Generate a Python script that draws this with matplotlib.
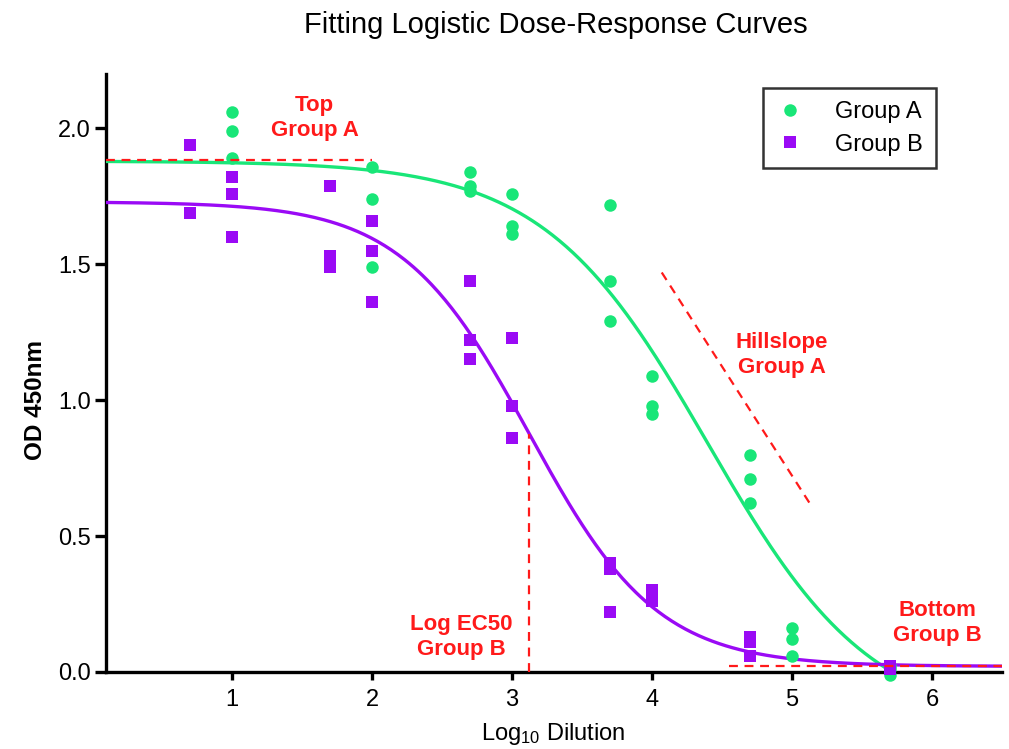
import matplotlib
matplotlib.use('Agg')
import matplotlib.pyplot as plt
import numpy as np

# ==========================================
# 1. fonts
# ==========================================
plt.rcParams['font.family'] = ['Liberation Sans', 'DejaVu Sans']
plt.rcParams['mathtext.fontset'] = 'custom'
plt.rcParams['mathtext.rm'] = 'Liberation Sans'
plt.rcParams['mathtext.it'] = 'Liberation Sans:italic'
plt.rcParams['mathtext.bf'] = 'Liberation Sans:bold'

# ==========================================
# 2. data (log10 dilution vs OD 450nm)
# ==========================================
dil_a = [1, 1, 1, 2, 2, 2, 2.7, 2.7, 2.7, 3, 3, 3, 3.7, 3.7, 3.7,
         4, 4, 4, 4.7, 4.7, 4.7, 5, 5, 5, 5.7, 5.7, 5.7]
od_a = [2.06, 1.99, 1.89, 1.86, 1.74, 1.49, 1.84, 1.79, 1.77, 1.76, 1.64, 1.61,
        1.72, 1.44, 1.29, 1.09, 0.98, 0.95, 0.80, 0.71, 0.62, 0.16, 0.12, 0.06,
        0.02, 0.01, -0.01]

dil_b = [0.7, 0.7, 1, 1, 1, 1.7, 1.7, 1.7, 2, 2, 2, 2.7, 2.7, 2.7, 3, 3, 3,
         3.7, 3.7, 3.7, 4, 4, 4, 4.7, 4.7, 4.7, 5.7, 5.7, 5.7]
od_b = [1.94, 1.69, 1.82, 1.76, 1.60, 1.79, 1.53, 1.49, 1.66, 1.55, 1.36,
        1.44, 1.22, 1.15, 1.23, 0.98, 0.86, 0.40, 0.38, 0.22, 0.30, 0.28, 0.26,
        0.13, 0.11, 0.06, 0.02, 0.02, 0.01]

# fitted 4PL parameters: top, bottom, logEC50, hill slope
fit_a = [1.88, -0.20, 4.40, 0.74]
fit_b = [1.73, 0.02, 3.125, 0.95]

# hillslope guide for group A (start / end points in data units)
hill_x = [4.07, 5.14]
hill_y = [1.47, 0.61]

green = '#19E678'
purple = '#9A0AF5'
red = '#FF1A1A'


def logistic4(x, top, bottom, ec50, hill):
    return bottom + (top - bottom) / (1 + 10 ** ((x - ec50) * hill))


# ==========================================
# 3. canvas
# ==========================================
fig = plt.figure(figsize=(10.09, 7.49), dpi=100)
ax = fig.add_axes([0.105, 0.103, 0.888, 0.798])

xx = np.linspace(0.1, 6.5, 400)
ax.plot(xx, logistic4(xx, *fit_a), color=green, lw=2.4, zorder=3)
ax.plot(xx, logistic4(xx, *fit_b), color=purple, lw=2.4, zorder=3)

ax.plot(dil_a, od_a, 'o', color=green, ms=9, mew=0, label='Group A',
        clip_on=False, zorder=4)
ax.plot(dil_b, od_b, 's', color=purple, ms=9, mew=0, label='Group B',
        clip_on=False, zorder=4)

# ==========================================
# 4. red dashed guides + labels
# ==========================================
dash = (0, (4, 3))
ax.plot([0.1, 2.0], [fit_a[0] + 0.005] * 2, color=red, lw=1.6, ls=dash, zorder=5)
ax.plot(hill_x, hill_y, color=red, lw=1.6, ls=dash, zorder=5)
mid_b = (fit_b[0] + fit_b[1]) / 2
ax.plot([fit_b[2]] * 2, [0, mid_b], color=red, lw=1.6, ls=dash, zorder=5)
ax.plot([4.55, 6.5], [fit_b[1]] * 2, color=red, lw=1.6, ls=dash, zorder=5)

lab_kw = dict(color=red, fontsize=16, fontweight='bold', ha='center',
              va='center', linespacing=1.25, zorder=6)
ax.text(1.59, 2.04, 'Top\nGroup A', **lab_kw)
ax.text(4.93, 1.165, 'Hillslope\nGroup A', **lab_kw)
ax.text(2.64, 0.13, 'Log EC50\nGroup B', **lab_kw)
ax.text(6.04, 0.178, 'Bottom\nGroup B', **lab_kw)

# ==========================================
# 5. axes
# ==========================================
ax.set_xlim(0.1, 6.5)
ax.set_ylim(0, 2.2)
ax.set_xticks([1, 2, 3, 4, 5, 6])
ax.set_yticks([0, 0.5, 1.0, 1.5, 2.0])
ax.set_yticklabels(['0.0', '0.5', '1.0', '1.5', '2.0'])
for s in ['top', 'right']:
    ax.spines[s].set_visible(False)
for s in ['left', 'bottom']:
    ax.spines[s].set_linewidth(2.4)
ax.tick_params(axis='y', length=8, width=2.4, labelsize=17, pad=3)
ax.tick_params(axis='x', length=6, width=2.4, labelsize=17, pad=6)

fig.text(0.035, 0.466, 'OD 450nm', rotation=90, fontsize=17.5, fontweight='bold',
         ha='center', va='center')
fig.text(0.548, 0.02, r'Log$_{10}$ Dilution', fontsize=17, ha='center', va='center')
fig.text(0.551, 0.967, 'Fitting Logistic Dose-Response Curves', fontsize=21,
         ha='center', va='center')

leg = ax.legend(loc='upper right', bbox_to_anchor=(0.926, 0.977), fontsize=17,
                frameon=True, fancybox=False, edgecolor='black',
                handletextpad=1.3, labelspacing=0.45, borderpad=0.55,
                handlelength=1.2, borderaxespad=0)
leg.get_frame().set_linewidth(1.8)

plt.savefig('out.png', dpi=100)
